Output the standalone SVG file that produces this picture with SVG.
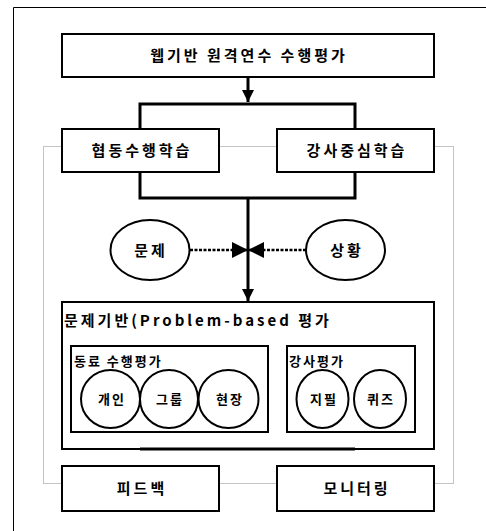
<svg xmlns="http://www.w3.org/2000/svg" width="486" height="531" viewBox="0 0 486 531">
<defs>
<style>
.box{fill:#fff;stroke:#000;stroke-width:2}
.ell{fill:#fff;stroke:#000;stroke-width:2}
.ln{fill:none;stroke:#000;stroke-width:3}
.dot{fill:none;stroke:#000;stroke-width:2.5;stroke-dasharray:3 1.5}
.frame{fill:none;stroke:#000;stroke-width:1}
.gdot{fill:none;stroke:#888;stroke-width:1;stroke-dasharray:1 1}
.t{font-family:"Noto Sans CJK KR","Noto Sans",sans-serif;font-weight:bold;fill:#000}
.t15{font-size:15px;letter-spacing:3px}
.t13{font-size:13px;letter-spacing:2px}
.c{text-anchor:middle}
</style>
<marker id="ah" viewBox="0 0 10 10" refX="10" refY="5" markerWidth="12" markerHeight="12" markerUnits="userSpaceOnUse" orient="auto">
<path d="M0,0 L10,5 L0,10 Z" fill="#000"/>
</marker>
<marker id="ahs" viewBox="0 0 10 10" refX="10" refY="5" markerWidth="16" markerHeight="16" markerUnits="userSpaceOnUse" orient="auto">
<path d="M0,0 L10,5 L0,10 Z" fill="#000"/>
</marker>
</defs>
<rect width="486" height="531" fill="#fff"/>
<path class="frame" d="M13.5,531 V7.5 H486"/>
<rect class="gdot" x="43.5" y="146.5" width="410" height="337"/>
<g id="connectors">
<line class="ln" x1="248" y1="77" x2="248" y2="102" marker-end="url(#ah)"/>
<path class="ln" d="M140,129 V104 H355 V129"/>
<path class="ln" d="M140,172 V198 H355 V172"/>
<line class="ln" x1="248" y1="198" x2="248" y2="301" marker-end="url(#ah)"/>
<line class="dot" x1="190" y1="250" x2="248" y2="250" marker-end="url(#ahs)"/>
<line class="dot" x1="306" y1="250" x2="248" y2="250" marker-end="url(#ahs)"/>
</g>
<g id="top"><rect class="box" x="62" y="34" width="372" height="43"/><text class="t t15 c" x="249" y="61">웹기반 원격연수 수행평가</text></g>
<g id="coop"><rect class="box" x="62" y="129" width="157" height="43"/><text class="t t15 c" x="142" y="156">협동수행학습</text></g>
<g id="teacher"><rect class="box" x="277" y="129" width="157" height="43"/><text class="t t15 c" x="357" y="156">강사중심학습</text></g>
<g id="problem"><ellipse class="ell" cx="150" cy="250" rx="39.5" ry="30"/><text class="t t15 c" x="151" y="256">문제</text></g>
<g id="situation"><ellipse class="ell" cx="345.5" cy="250" rx="39.5" ry="30"/><text class="t t15 c" x="347" y="256">상황</text></g>
<g id="pbl">
<rect class="box" x="62" y="302" width="372" height="147"/>
<line x1="140" y1="449" x2="355" y2="449" stroke="#000" stroke-width="3"/>
<text class="t t15" x="64" y="326">문제기반(Problem-based 평가</text>
</g>
<g id="peer">
<rect class="box" x="71" y="346" width="197" height="86"/>
<text class="t t13" x="74" y="366">동료 수행평가</text>
</g>
<g id="indiv"><ellipse class="ell" cx="110.5" cy="399" rx="29.5" ry="29"/><text class="t t13 c" x="112" y="404">개인</text></g>
<g id="group"><ellipse class="ell" cx="169" cy="399" rx="29" ry="29"/><text class="t t13 c" x="170" y="404">그룹</text></g>
<g id="field"><ellipse class="ell" cx="228.5" cy="399" rx="30" ry="29"/><text class="t t13 c" x="230" y="404">현장</text></g>
<g id="teval">
<rect class="box" x="287" y="346" width="128" height="86"/>
<text class="t t13" x="289" y="366">강사평가</text>
</g>
<g id="written"><ellipse class="ell" cx="322.5" cy="399" rx="26" ry="29"/><text class="t t13 c" x="324" y="404">지필</text></g>
<g id="quiz"><ellipse class="ell" cx="380" cy="399" rx="26" ry="29"/><text class="t t13 c" x="381" y="404">퀴즈</text></g>
<g id="feedback"><rect class="box" x="62" y="466" width="157" height="45"/><text class="t t15 c" x="142" y="494">피드백</text></g>
<g id="monitor"><rect class="box" x="277" y="466" width="157" height="45"/><text class="t t15 c" x="357" y="494">모니터링</text></g>
</svg>
